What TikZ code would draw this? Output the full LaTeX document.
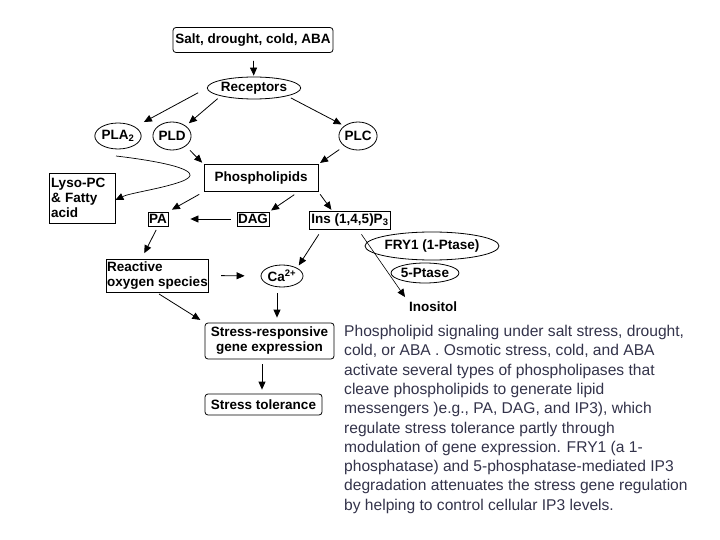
\documentclass[tikz,border=0pt]{standalone}
\usepackage{fontspec}
\setmainfont{Liberation Sans}
\usetikzlibrary{arrows.meta,shapes.geometric}
\definecolor{captxt}{HTML}{33334A}
\tikzset{
  lbl/.style={font=\bfseries\fontsize{13.5}{14}\selectfont,inner sep=1.5pt},
  bx/.style={lbl,draw,line width=0.8pt,anchor=center},
  rbx/.style={bx,rounded corners=3pt},
  ov/.style={lbl,draw,ellipse,line width=0.8pt,inner sep=0pt},
  arr/.style={-{Triangle[length=8pt,width=7pt]},line width=0.8pt},
}
\begin{document}
\begin{tikzpicture}[x=1pt,y=-1pt]
\useasboundingbox (0,0) rectangle (720,540);
% nodes
\node[rbx,minimum width=160pt,minimum height=25pt] (salt) at (253,40) {Salt, drought, cold, ABA};
\node[ov,minimum width=82pt,minimum height=22pt] (rec) at (254,88) {Receptors};
\node[ov,minimum width=42pt,minimum height=26pt] (pla) at (118,136) {PLA\textsubscript{2}};
\node[ov,minimum width=32pt,minimum height=28pt] (pld) at (172,136) {PLD};
\node[ov,minimum width=32pt,minimum height=28pt] (plc) at (358,136) {PLC};
\node[bx,minimum width=114pt,minimum height=27pt] (phl) at (261,178) {Phospholipids};
\node[bx,minimum width=66pt,minimum height=50pt,align=left,text width=62pt,inner sep=2pt] (lyso) at (82,198) {Lyso-PC\\[1pt]\& Fatty\\[1pt]acid};
\node[bx,minimum width=20pt,minimum height=14pt,inner sep=0.5pt] (pa) at (158,219) {PA};
\node[bx,minimum width=32pt,minimum height=14pt,inner sep=0.5pt] (dag) at (253,219) {DAG};
\node[bx,minimum width=81pt,minimum height=18pt,inner sep=0.5pt] (ins) at (350,220) {Ins (1,4,5)P\textsubscript{3}};
\node[ov,minimum width=112pt,minimum height=28pt] (fry) at (432,246) {FRY1 (1-Ptase)};
\node[ov,minimum width=62pt,minimum height=20pt] (pt5) at (425,273) {5-Ptase};
\node[lbl] (ino) at (433,307) {Inositol};
\node[bx,minimum width=101pt,minimum height=33pt,align=left,inner sep=1pt] (ros) at (157.5,275.5) {Reactive\\[1pt]oxygen species};
\node[ov,minimum width=42pt,minimum height=22pt] (ca) at (282,276) {Ca\textsuperscript{2+}};
\node[rbx,minimum width=129pt,minimum height=36pt,align=center] (srg) at (269.5,341) {Stress-responsive\\[1pt]gene expression};
\node[rbx,minimum width=117pt,minimum height=21pt] (tol) at (263.5,404.5) {Stress tolerance};
\coordinate (bend) at (116,156);
% connectors
\draw[arr,shorten <=8pt,shorten >=1pt] (salt) -- (rec);
\draw[arr,shorten <=10pt,shorten >=10pt] (rec.west) -- (pla);
\draw[arr,shorten <=4pt,shorten >=4pt] (rec.south west) -- (pld.north east);
\draw[arr,shorten <=4pt,shorten >=3pt] (rec.south east) -- (plc.north west);
\draw[arr,shorten <=6pt,shorten >=2pt] (pld.south east) -- (phl.north west);
\draw[arr,shorten <=6pt,shorten >=2pt] (plc.south west) -- (phl.north east);
\draw[arr,line width=0.7pt] (bend) .. controls (150,160) and (215,170) .. (180,182) .. controls (160,189) and (130,193) .. ([yshift=-2pt]lyso.east);
\draw[arr,shorten <=5pt,shorten >=4pt] (phl.south west) -- (pa.north east);
\draw[arr,shorten <=5pt,shorten >=2pt] ([xshift=-20pt]phl.south east) -- (dag.north east);
\draw[arr,shorten <=3pt,shorten >=1pt] (phl.south east) -- ([xshift=-18pt]ins.north);
\draw[arr,shorten <=6pt,shorten >=22pt] (dag) -- (pa);
\draw[arr,shorten <=4pt,shorten >=6pt] (pa.south) -- ([xshift=-16pt]ros.north);
\draw[arr,shorten <=6pt,shorten >=3pt] ([xshift=-28pt]ins.south) -- (ca.north east);
\draw[arr,line width=0.6pt,shorten <=6pt,shorten >=4pt] ([xshift=8pt]ins.south) -- (ino.north west);
\draw[arr,shorten <=12pt,shorten >=16pt] (ros.east) -- (ca.west);
\draw[arr,shorten <=6pt,shorten >=5pt] ([xshift=-5pt]ca.south) -- ([xshift=7.5pt]srg.north);
\draw[arr,shorten <=3pt,shorten >=5pt] ([xshift=-1pt]ros.south) -- (srg.north west);
\draw[arr,shorten <=5pt,shorten >=4pt] ([xshift=-7.5pt]srg.south) -- ([xshift=-1.5pt]tol.north);
% caption
\node[font=\fontsize{15.6}{19.3}\selectfont,text=captxt,align=left,anchor=north west,inner sep=0pt] (cap) at (344,325)
{Phospholipid signaling under salt stress, drought,\\
cold, or ABA . Osmotic stress, cold, and ABA\\
activate several types of phospholipases that\\
cleave phospholipids to generate lipid\\
messengers )e.g., PA, DAG, and IP3), which\\
regulate stress tolerance partly through\\
modulation of gene expression. FRY1 (a 1-\\
phosphatase) and 5-phosphatase-mediated IP3\\
degradation attenuates the stress gene regulation\\
by helping to control cellular IP3 levels.};
\end{tikzpicture}
\end{document}
